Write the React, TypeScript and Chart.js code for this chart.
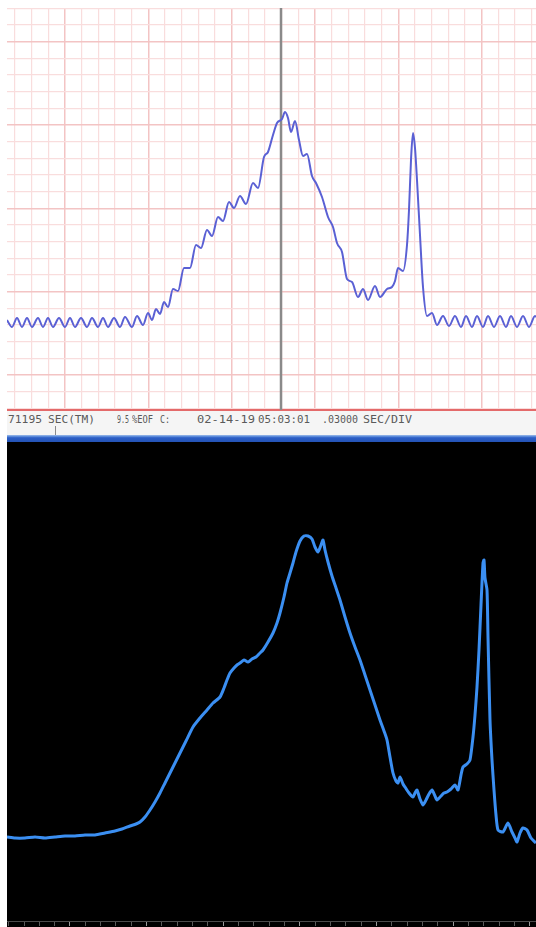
import React, { useEffect, useRef } from "react";
import { Chart, registerables } from "chart.js";

Chart.register(...registerables);

// ---- Upper recorder trace (sample index, amplitude counts) ----
const topSamples = [
  0, 5, 10, 15, 20, 25, 31, 36, 41, 46,
  52, 58, 63, 68, 74, 80, 85, 91, 96, 101,
  107, 113, 118, 125, 130, 136, 141, 145, 149, 153,
  157, 161, 166, 171, 177, 183, 189, 194, 200, 205,
  211, 216, 222, 227, 233, 239, 246, 251, 257, 261,
  266, 270, 275, 278, 281, 284, 288, 292, 296, 300,
  305, 309, 315, 321, 326, 330, 335, 340, 345, 351,
  356, 361, 368, 373, 380, 385, 388, 391, 396, 400,
  402, 404, 406, 408, 410, 413, 416, 420, 425, 430,
  436, 442, 448, 454, 459, 465, 470, 476, 481, 487,
  493, 499, 504, 510, 516, 522, 528, 529,
];
const topCounts = [
  90, 83, 92, 83, 92, 83, 92, 83, 92, 83,
  92, 83, 92, 83, 92, 83, 92, 83, 92, 83,
  92, 83, 93, 83, 94, 85, 97, 90, 101, 96,
  108, 103, 121, 119, 142, 142, 165, 162, 180, 174,
  193, 189, 208, 202, 214, 206, 227, 222, 253, 258,
  275, 287, 291, 298, 292, 278, 289, 270, 254, 256,
  234, 227, 213, 193, 183, 167, 158, 131, 128, 113,
  121, 110, 124, 113, 121, 123, 129, 142, 139, 165,
  200, 250, 277, 262, 230, 175, 123, 94, 97, 85,
  94, 84, 94, 83, 94, 83, 94, 83, 94, 83,
  94, 83, 94, 83, 94, 83, 94, 93,
];
const cursorSample = 274;

// ---- Lower scope trace (sample index, amplitude counts) ----
const bottomSamples = [
  0, 8, 18, 28, 38, 48, 58, 68, 78, 88,
  98, 108, 115, 123, 129, 133, 138, 143, 148, 153,
  158, 163, 168, 173, 179, 186, 193, 200, 206, 213,
  217, 220, 223, 227, 230, 233, 237, 241, 245, 249,
  253, 256, 261, 266, 270, 273, 277, 280, 283, 286,
  289, 293, 297, 301, 305, 308, 311, 314, 316, 318,
  321, 325, 329, 333, 338, 343, 348, 353, 358, 363,
  368, 373, 377, 380, 383, 386, 389, 391, 393, 396,
  398, 402, 406, 408, 410, 413, 416, 419, 422, 425,
  428, 430, 434, 437, 440, 444, 448, 451, 454, 456,
  460, 463, 466, 468, 470, 472, 474, 476, 477, 478,
  480, 481, 483, 485, 487, 489, 491, 496, 501, 505,
  508, 510, 513, 516, 520, 524, 529,
];
const bottomCounts = [
  83, 82, 82, 83, 82, 83, 84, 84, 85, 85,
  87, 89, 91, 94, 96, 98, 103, 110, 118, 127,
  137, 147, 157, 167, 179, 193, 202, 210, 217, 223,
  232, 240, 247, 252, 255, 257, 260, 258, 261, 263,
  267, 270, 278, 287, 297, 307, 323, 337, 347, 357,
  368, 379, 384, 384, 381, 373, 368, 375, 380, 370,
  358, 344, 332, 320, 303, 287, 273, 260, 245, 230,
  215, 200, 189, 180, 163, 147, 139, 137, 143, 136,
  133, 127, 123, 127, 130, 121, 115, 120, 126, 130,
  124, 120, 124, 127, 128, 131, 135, 130, 145, 153,
  156, 160, 183, 205, 233, 270, 315, 357, 360, 342,
  330, 283, 200, 160, 130, 105, 90, 88, 97, 88,
  82, 78, 87, 92, 90, 82, 77,
];

// ---- Status strip text ----
const stripLabels = ["71195", "SEC(TM)", "9.5", "%EOF", "C:", "02-14-19", "05:03:01", ".03000", "SEC/DIV"];
const stripLabelX = [1, 41, 110, 125, 153, 190, 251, 315, 356];
const stripLabelW = [34, 47, 12, 21, 10, 58, 52, 36, 49];

const TOP_W = 529;
const TOP_H = 411;
const BOT_H = 485;
const CHAR_W = 6.62;

export default function App() {
  const topRef = useRef<HTMLCanvasElement | null>(null);
  const botRef = useRef<HTMLCanvasElement | null>(null);

  useEffect(() => {
    const minorStepX = 16.667;
    const minorStepY = 16.667;
    const top = new Chart(topRef.current!, {
      type: "line",
      data: {
        datasets: [
          {
            data: topSamples.map((x, i) => ({ x, y: topCounts[i] })),
            borderColor: "#5a60d4",
            borderWidth: 2,
            pointRadius: 0,
            cubicInterpolationMode: "monotone",
            fill: false,
          },
          {
            data: [
              { x: cursorSample, y: 0 },
              { x: cursorSample, y: 402 },
            ],
            borderColor: "#8a8a8a",
            borderWidth: 2.5,
            pointRadius: 0,
            fill: false,
          },
        ],
      },
      options: {
        animation: false,
        responsive: false,
        events: [],
        layout: { padding: { left: 0, top: 8, right: 0, bottom: 1 } },
        plugins: { legend: { display: false }, tooltip: { enabled: false } },
        scales: {
          x: {
            type: "linear",
            min: 0,
            max: 529,
            afterBuildTicks: (axis: any) => {
              axis.ticks = Array.from({ length: 32 }, (_, k) => ({ value: 8 + k * minorStepX }));
            },
            ticks: { display: false },
            grid: {
              drawTicks: false,
              color: (c: any) => (c.index % 5 === 3 ? "#f3c4c4" : "#f9dddd"),
              lineWidth: (c: any) => (c.index % 5 === 3 ? 1.5 : 1.2),
            },
            border: { display: true, color: "#e46a6a", width: 2 },
          },
          y: {
            type: "linear",
            min: 0,
            max: 402,
            afterBuildTicks: (axis: any) => {
              axis.ticks = Array.from({ length: 25 }, (_, k) => ({ value: 1.667 + k * minorStepY }));
            },
            ticks: { display: false },
            grid: {
              drawTicks: false,
              color: (c: any) => (c.index % 5 === 2 ? "#f3c4c4" : "#f9dddd"),
              lineWidth: (c: any) => (c.index % 5 === 2 ? 1.5 : 1.2),
            },
            border: { display: false },
          },
        },
      },
    } as any);

    const minorStepB = 15.333;
    const bottom = new Chart(botRef.current!, {
      type: "line",
      data: {
        datasets: [
          {
            data: bottomSamples.map((x, i) => ({ x, y: bottomCounts[i] })),
            borderColor: "#3b8ff2",
            borderWidth: 3,
            pointRadius: 0,
            tension: 0.2,
            fill: false,
          },
        ],
      },
      options: {
        animation: false,
        responsive: false,
        events: [],
        layout: { padding: { left: 0, top: 0, right: 0, bottom: 1 } },
        plugins: { legend: { display: false }, tooltip: { enabled: false } },
        scales: {
          x: {
            type: "linear",
            min: 0,
            max: 529,
            afterBuildTicks: (axis: any) => {
              axis.ticks = Array.from({ length: 35 }, (_, k) => ({ value: 1.667 + k * minorStepB }));
            },
            ticks: { display: false },
            grid: {
              drawOnChartArea: false,
              drawTicks: true,
              tickLength: 5,
              tickColor: (c: any) => (c.index % 5 === 4 ? "#9a9a9a" : "#5a5a5a"),
              tickWidth: 1,
            },
            border: { display: true, color: "#4a4a4a", width: 1 },
          },
          y: { display: false, min: -1, max: 478 },
        },
      },
    } as any);

    return () => {
      top.destroy();
      bottom.destroy();
    };
  }, []);

  return (
    <div style={{ position: "absolute", left: 0, top: 0, width: 536, height: 927, background: "#ffffff", overflow: "hidden" }}>
      <canvas
        ref={topRef}
        width={TOP_W}
        height={TOP_H}
        style={{ position: "absolute", left: 7, top: 0, width: TOP_W, height: TOP_H }}
      />
      <div style={{ position: "absolute", left: 7, top: 411, width: 529, height: 24, background: "#f5f5f5" }}>
        {stripLabels.map((t, i) => (
          <span
            key={i}
            style={{
              position: "absolute",
              left: stripLabelX[i],
              top: 2,
              fontFamily: "'DejaVu Sans Mono', monospace",
              fontSize: 11,
              lineHeight: "13px",
              color: "#5a5a5a",
              whiteSpace: "pre",
              transformOrigin: "0 0",
              transform: `scaleX(${stripLabelW[i] / (t.length * CHAR_W)})`,
            }}
          >
            {t}
          </span>
        ))}
        <div style={{ position: "absolute", left: 48, top: 15, width: 1, height: 9, background: "#8a8a8a" }} />
      </div>
      <div
        style={{
          position: "absolute",
          left: 7,
          top: 435,
          width: 529,
          height: 7,
          background: "linear-gradient(to bottom, #9fbcea 0%, #5f8edb 20%, #2c5ec6 40%, #2453b5 100%)",
        }}
      />
      <div style={{ position: "absolute", left: 7, top: 442, width: 529, height: BOT_H, background: "#000000" }}>
        <canvas
          ref={botRef}
          width={TOP_W}
          height={BOT_H}
          style={{ position: "absolute", left: 0, top: 0, width: TOP_W, height: BOT_H }}
        />
      </div>
    </div>
  );
}
